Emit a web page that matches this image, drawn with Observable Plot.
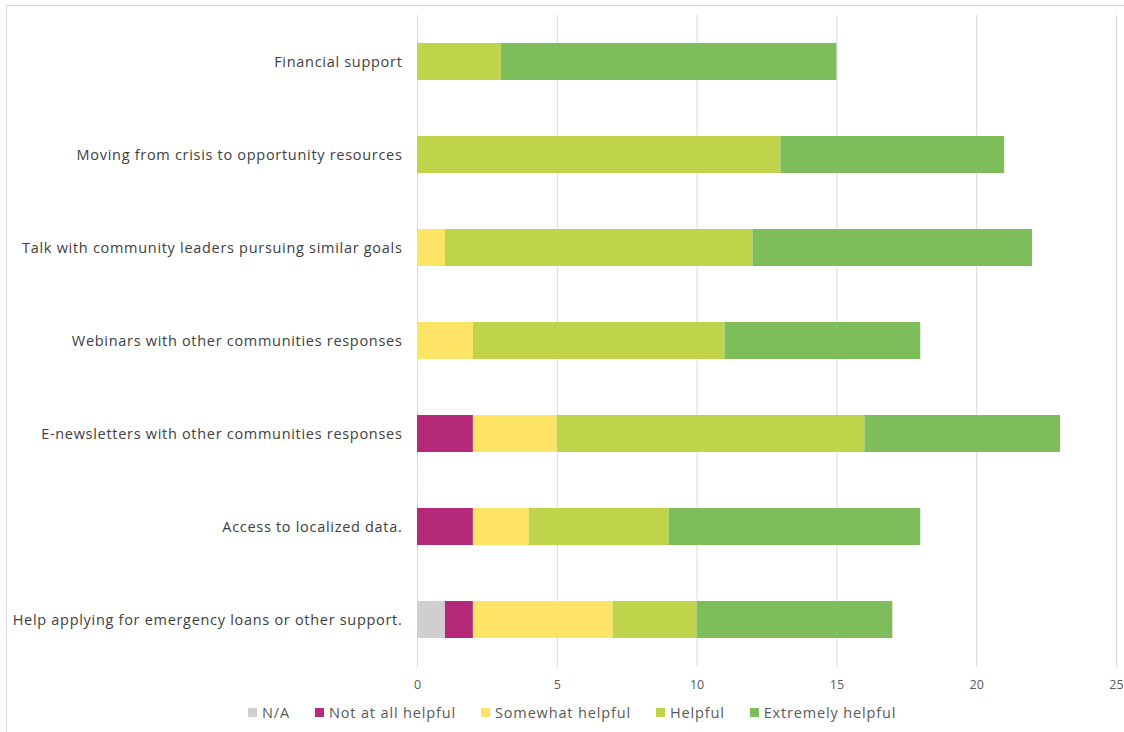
<!DOCTYPE html>
<html>
<head>
<meta charset="utf-8">
<script src="https://cdn.jsdelivr.net/npm/d3@7"></script>
<script src="https://cdn.jsdelivr.net/npm/@observablehq/plot@0.6"></script>
<style>
  html, body { margin: 0; padding: 0; background: #fff; }
  body { width: 1124px; height: 732px; position: relative; overflow: hidden; font-family: "Open Sans", sans-serif; }
  #frame { position: absolute; left: 6px; top: 5px; width: 1130px; height: 740px; border: 1px solid #d9d9d9; box-sizing: border-box; }
  #chart { position: absolute; left: 0; top: 0; }
  #chart g[aria-label="y-axis tick label"] text { letter-spacing: 0.7px; }
  #legend { position: absolute; left: 248px; top: 703px; display: flex; gap: 25px; font-size: 14.5px; letter-spacing: 0.85px; color: #595959; }
  #legend .item { display: flex; align-items: center; white-space: nowrap; }
  #legend .sw { width: 9px; height: 9px; margin-right: 5px; }
</style>
</head>
<body>
<div id="frame"></div>
<div id="chart"></div>
<div id="legend"></div>
<script>
const categories = [
  "Financial support",
  "Moving from crisis to opportunity resources",
  "Talk with community leaders pursuing similar goals",
  "Webinars with other communities responses",
  "E-newsletters with other communities responses",
  "Access to localized data.",
  "Help applying for emergency loans or other support."
];
const seriesNames = ["N/A", "Not at all helpful", "Somewhat helpful", "Helpful", "Extremely helpful"];
const seriesColors = ["#d0cece", "#b5297a", "#fee466", "#bfd44a", "#7dbe5a"];
const naValues        = [0, 0, 0, 0, 0, 0, 1];
const notAtAllValues  = [0, 0, 0, 0, 2, 2, 1];
const somewhatValues  = [0, 0, 1, 2, 3, 2, 5];
const helpfulValues   = [3, 13, 11, 9, 11, 5, 3];
const extremelyValues = [12, 8, 10, 7, 7, 9, 7];
const xTicks = [0, 5, 10, 15, 20, 25];

const seriesValues = [naValues, notAtAllValues, somewhatValues, helpfulValues, extremelyValues];
const rows = [];
seriesNames.forEach((s, si) => {
  categories.forEach((c, ci) => {
    const v = seriesValues[si][ci];
    if (v > 0) rows.push({category: c, series: s, value: v});
  });
});

const chart = Plot.plot({
  width: 1124,
  height: 700,
  marginTop: 15,
  marginBottom: 33,
  marginLeft: 417,
  marginRight: 8,
  style: {fontFamily: "'Open Sans', sans-serif", background: "transparent"},
  x: {domain: [0, 25], ticks: xTicks, label: null},
  y: {domain: categories, label: null, paddingInner: 0.6, paddingOuter: 0.3},
  color: {domain: seriesNames, range: seriesColors},
  marks: [
    Plot.gridX({ticks: xTicks, stroke: "#d9d9d9", strokeOpacity: 1}),
    Plot.barX(rows, Plot.stackX({x: "value", y: "category", fill: "series", z: "series", order: seriesNames})),
    Plot.axisX({ticks: xTicks, tickSize: 0, tickPadding: 13, fontSize: 12.5, fill: "#595959", label: null}),
    Plot.axisY({tickSize: 0, tickPadding: 15, fontSize: 14.5, fill: "#404040", label: null})
  ]
});
document.getElementById("chart").appendChild(chart);

const legend = document.getElementById("legend");
seriesNames.forEach((s, i) => {
  const item = document.createElement("div");
  item.className = "item";
  const sw = document.createElement("div");
  sw.className = "sw";
  sw.style.background = seriesColors[i];
  const t = document.createElement("span");
  t.textContent = s;
  item.appendChild(sw);
  item.appendChild(t);
  legend.appendChild(item);
});
</script>
</body>
</html>
